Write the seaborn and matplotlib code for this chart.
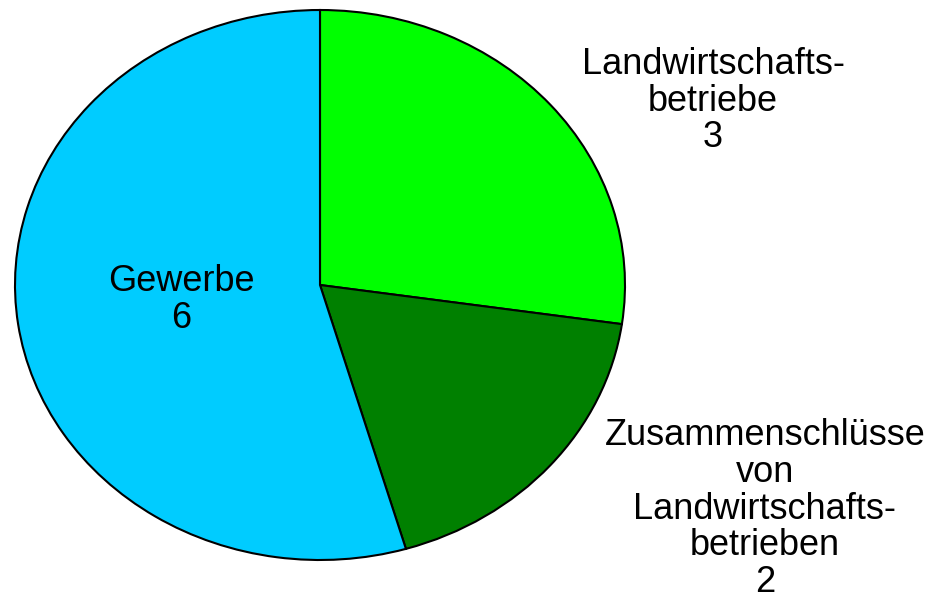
import matplotlib
matplotlib.use("Agg")
import matplotlib.pyplot as plt
import seaborn as sns

# slices, clockwise from 12 o'clock
labels = ["Landwirtschafts-\nbetriebe", "Zusammenschlüsse\nvon\nLandwirtschafts-\nbetrieben", "Gewerbe"]
values = [3, 2, 6]
colors = ["#00FF00", "#008000", "#00CCFF"]

sns.set_style("white")
plt.rcParams['font.family'] = ['Liberation Sans', 'DejaVu Sans']

fig = plt.figure(figsize=(9.32, 5.99), dpi=100)
fig.patch.set_facecolor("white")
# stretched pie: ellipse wider than tall
ax = fig.add_axes([15 / 932, 39 / 599, 610 / 932, 550 / 599])

wedges, _ = ax.pie(values, colors=colors, startangle=90, counterclock=False,
                   wedgeprops=dict(edgecolor="black", linewidth=1.5))
ax.set_aspect("auto")
ax.set_xlim(-1, 1)
ax.set_ylim(-1, 1)
ax.axis("off")

# label positions in data units (radius 1)
label_pos = [(1.289, 0.669), (1.459, -0.815), (-0.456, -0.055)]
for lab, val, (x, y) in zip(labels, values, label_pos):
    ax.text(x, y, f"{lab}\n{val}", ha="center", va="center", fontsize=26,
            linespacing=1.06, color="black", clip_on=False)

fig.savefig("out.png", dpi=100)
